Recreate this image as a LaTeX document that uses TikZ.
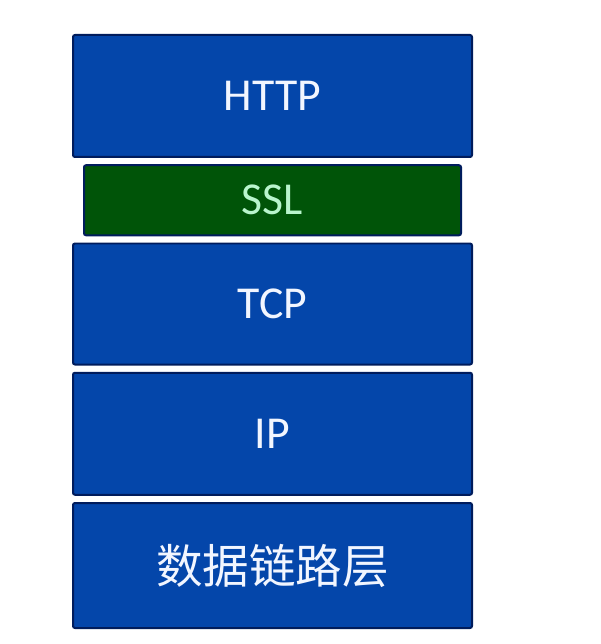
\documentclass[tikz,border=0pt]{standalone}
\usepackage{fontspec}
\setmainfont{Carlito}
\newfontfamily\cjk{Noto Sans CJK SC}
\usetikzlibrary{positioning}
\definecolor{layerblue}{RGB}{4,70,170}
\definecolor{layeredge}{RGB}{0,28,92}
\definecolor{sslgreen}{RGB}{0,84,8}
\definecolor{ssltext}{RGB}{185,245,205}
\definecolor{layertext}{RGB}{242,246,255}

\begin{document}
\begin{tikzpicture}[node distance=0.125cm,
    layer/.style={draw=layeredge, line width=0.04cm, fill=layerblue, rounded corners=0.04cm,
        minimum width=7.98cm, inner sep=0pt, text=layertext,
        font=\fontsize{26}{30}\selectfont}]
        \useasboundingbox (0,0) rectangle (12,-12.88);
        \node (HTTP) [layer, minimum height=2.44cm] at (5.45,-1.92) {HTTP};
        \node (SSL)  [layer, below=of HTTP, minimum width=7.54cm, minimum height=1.4cm,
                      fill=sslgreen, text=ssltext] {SSL};
        \node (TCP)  [layer, below=of SSL, minimum height=2.42cm] {TCP};
        \node (IP)   [layer, below=of TCP, minimum height=2.44cm] {IP};
        \node (link) [layer, below=of IP, minimum height=2.5cm, font=\cjk\fontsize{26.5}{30}\selectfont] {数据链路层};
    \end{tikzpicture}
\end{document}
